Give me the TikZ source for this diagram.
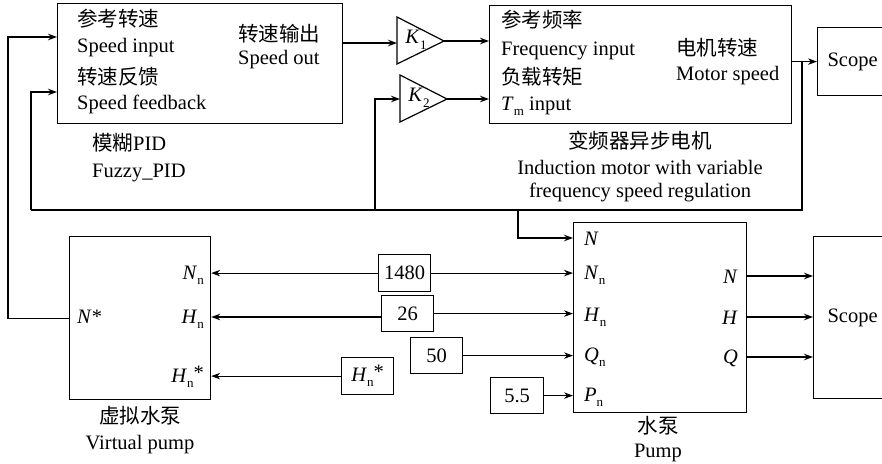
\documentclass[tikz,border=0pt]{standalone}
\usepackage{fontspec}
\setmainfont{Liberation Serif}
\newfontfamily\cjk{Noto Sans CJK SC}
\usetikzlibrary{arrows.meta}
\newcommand{\vsub}[2]{\textit{#1}\raisebox{-0.6ex}{\fontsize{13}{13}\selectfont #2}}
\tikzset{
  every node/.style={font=\fontsize{20.5}{24}\selectfont},
  blk/.style={draw, line width=1.2pt, inner sep=0pt, anchor=north west},
  lbl/.style={inner sep=0pt, anchor=base west},
  lblr/.style={inner sep=0pt, anchor=base east},
  lblc/.style={inner sep=0pt, anchor=base},
  wire/.style={line width=1.2pt},
  arr/.style={line width=1.2pt, -{Stealth[length=9pt,width=6.5pt]}},
}
\begin{document}
\begin{tikzpicture}[x=1pt,y=-1pt]
\path[use as bounding box] (0,0) rectangle (882,463);
\clip (0,0) rectangle (882,463);
\fill[white] (0,0) rectangle (882,463);

% ---- blocks
\node[blk, minimum width=285pt, minimum height=120pt] (fuzzy) at (57,3) {};
\node[blk, minimum width=302pt, minimum height=118pt] (motor) at (489,5) {};
\node[blk, minimum width=70pt, minimum height=68pt] (scope1) at (817,27) {Scope};
\node[blk, minimum width=141pt, minimum height=163pt] (vp) at (69,236) {};
\node[blk, minimum width=173pt, minimum height=190pt] (pump) at (573,222) {};
\node[blk, minimum width=78pt, minimum height=162pt] (scope2) at (813,236) {Scope};
\node[blk, minimum width=52pt, minimum height=37pt] (c1480) at (378,254) {1480};
\node[blk, minimum width=52pt, minimum height=36pt] (c26) at (381,295) {26};
\node[blk, minimum width=52pt, minimum height=36pt] (c50) at (410,337) {50};
\node[blk, minimum width=53pt, minimum height=36pt] (c55) at (490,377) {5.5};
\node[blk, minimum width=52pt, minimum height=37pt] (chn) at (341,357) {\vsub{H}{n}\raisebox{0.25ex}{*}};

% ---- gains
\draw[wire] (397,17) -- (444,41) -- (397,64) -- cycle;
\coordinate (k1in) at (397,43);
\coordinate (k1out) at (444,41);
\node[inner sep=0pt] (k1) at (416,40) {\vsub{K}{1}};
\draw[wire] (400,75) -- (447,99) -- (400,122) -- cycle;
\coordinate (k2in) at (400,99);
\coordinate (k2out) at (447,99);
\node[inner sep=0pt] (k2) at (419,98) {\vsub{K}{2}};

% ---- fuzzy labels
\node[lbl] (f1) at (77,26) {\cjk 参考转速};
\node[lbl] (f2) at (77,52) {Speed input};
\node[lbl] (f3) at (77,84) {\cjk 转速反馈};
\node[lbl] (f4) at (77,109) {Speed feedback};
\node[lbl] (f5) at (238,41) {\cjk 转速输出};
\node[lbl] (f6) at (238,64) {Speed out};
\node[lbl] (f7) at (92,150) {{\cjk 模糊}PID};
\node[lbl] (f8) at (92,177) {Fuzzy\_PID};

% ---- motor labels
\node[lbl] (m1) at (501,27) {\cjk 参考频率};
\node[lbl] (m2) at (501,55) {Frequency input};
\node[lbl] (m3) at (501,84) {\cjk 负载转矩};
\node[lbl] (m4) at (501,110) {\vsub{T}{m} input};
\node[lbl] (m5) at (676,55) {\cjk 电机转速};
\node[lbl] (m6) at (676,80) {Motor speed};
\node[lblc] (m7) at (640,148) {\cjk 变频器异步电机};
\node[lblc] (m8) at (640,174) {Induction motor with variable};
\node[lblc] (m9) at (640,197) {frequency speed regulation};

% ---- virtual pump labels
\node[lbl] (v0) at (77,323) {\textit{N}*};
\node[lblr] (v1) at (204,279) {\vsub{N}{n}};
\node[lblr] (v2) at (204,323) {\vsub{H}{n}};
\node[lblr] (v3) at (204,382) {\vsub{H}{n}\raisebox{0.25ex}{*}};
\node[lblc] (v4) at (140,423) {\cjk 虚拟水泵};
\node[lblc] (v5) at (140,449) {Virtual pump};

% ---- pump labels
\node[lbl] (p1) at (584,245) {\textit{N}};
\node[lbl] (p2) at (584,279) {\vsub{N}{n}};
\node[lbl] (p3) at (584,321) {\vsub{H}{n}};
\node[lbl] (p4) at (584,361) {\vsub{Q}{n}};
\node[lbl] (p5) at (584,401) {\vsub{P}{n}};
\node[lblr] (p6) at (738,283) {\textit{N}};
\node[lblr] (p7) at (738,324) {\textit{H}};
\node[lblr] (p8) at (738,363) {\textit{Q}};
\node[lblc] (p9) at (658,433) {\cjk 水泵};
\node[lblc] (p10) at (658,457) {Pump};

% ---- connectors, top
\draw[arr] (vp.west) -| (8,37) -- (fuzzy.west |- 0,37);
\draw[arr] (fuzzy.east |- k1in) -- (k1in);
\draw[arr] (k1out) -- (motor.west |- k1out);
\draw[arr] (k2out) -- (motor.west |- k2out);
\draw[arr] (motor.east |- scope1.west) -- (scope1.west);
\draw[wire] (802,61) |- (31,210);
\draw[arr] (31,210) |- (fuzzy.west |- 0,92);
\draw[arr] (375,210) |- (k2in);
\draw[arr] (518,210) |- (pump.west |- 0,238);

% ---- connectors, bottom
\draw[arr] (c1480.west) -- (vp.east |- c1480.west);
\draw[arr] (c1480.east) -- (pump.west |- c1480.east);
\draw[arr] (c26.west |- 0,317) -- (vp.east |- 0,317);
\draw[arr] (c26.east) -- (pump.west |- c26.east);
\draw[arr] (c50.east) -- (pump.west |- c50.east);
\draw[arr] (c55.east) -- (pump.west |- c55.east);
\draw[arr] (chn.west) -- (vp.east |- chn.west);
\draw[arr] (pump.east |- 0,276) -- (scope2.west |- 0,276);
\draw[arr] (pump.east |- 0,317) -- (scope2.west |- 0,317);
\draw[arr] (pump.east |- 0,357) -- (scope2.west |- 0,357);
\end{tikzpicture}
\end{document}
